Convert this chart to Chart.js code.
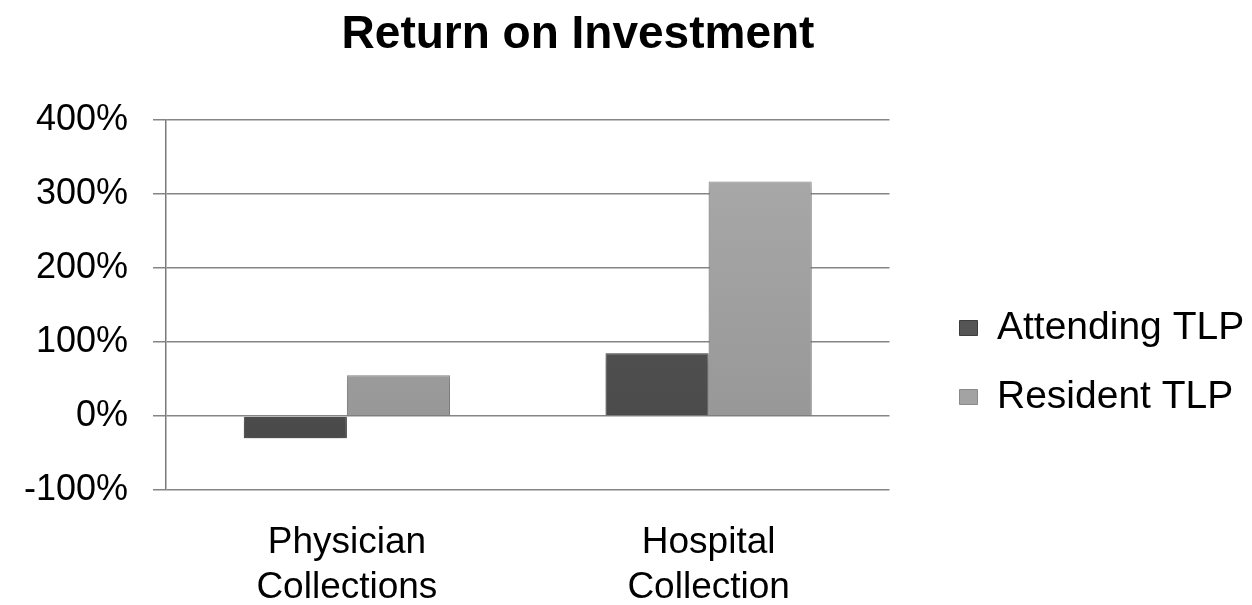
<!DOCTYPE html>
<html>
<head>
<meta charset="utf-8">
<title>Return on Investment</title>
<script src="https://cdn.jsdelivr.net/npm/chart.js@4.4.1/dist/chart.umd.min.js"></script>
<style>
  html, body { margin: 0; padding: 0; background: #fff; }
  #wrap { width: 1252px; height: 605px; position: relative; }
</style>
</head>
<body>
<div id="wrap"><canvas id="roi-canvas"></canvas></div>
<script>
var categories = [['Physician', 'Collections'], ['Hospital', 'Collection']];
var seriesNames = ['Attending TLP', 'Resident TLP'];
var attendingValues = [-30, 85];
var residentValues = [55, 317];
var yTicks = [-100, 0, 100, 200, 300, 400];

var fontFamily = '"Liberation Sans", Arial, sans-serif';
var attendingFlat = '#555555';
var residentFlat = '#a3a3a3';

function barGradient(top, bottom) {
    return function (context) {
        var area = context.chart.chartArea;
        if (!area) return top;
        var g = context.chart.ctx.createLinearGradient(0, area.top, 0, area.bottom);
        g.addColorStop(0, top);
        g.addColorStop(1, bottom);
        return g;
    };
}

// moves title and legend to where they sit in the reference
var placeBlocks = {
    id: 'placeBlocks',
    afterLayout: function (chart) {
        var t = chart.titleBlock;
        if (t) {
            var w = t.right - t.left;
            t.left = 578 - w / 2;
            t.right = t.left + w;
        }
        var lg = chart.legend;
        if (lg) {
            lg.left += 40;
            lg.right = chart.width;   // legend clips to its own box
            lg.top += 60; lg.bottom += 60;
        }
    }
};

var barShadow = {
    id: 'barShadow',
    beforeDatasetsDraw: function (chart) {
        var ctx = chart.ctx;
        ctx.save();
        ctx.shadowColor = 'rgba(0,0,0,0.35)';
        ctx.shadowBlur = 7;
        ctx.shadowOffsetY = 4;
    },
    afterDatasetsDraw: function (chart) {
        chart.ctx.restore();
    }
};

var roiChart = new Chart(document.getElementById('roi-canvas'), {
    type: 'bar',
    data: {
        labels: categories,
        datasets: [{
            label: seriesNames[0],
            data: attendingValues,
            backgroundColor: barGradient('#5c5c5c', '#474747'),
            borderColor: '#3c3c3c',
            borderWidth: 1,
            categoryPercentage: 0.57,
            barPercentage: 1.0
        }, {
            label: seriesNames[1],
            data: residentValues,
            backgroundColor: barGradient('#ababab', '#939393'),
            borderColor: '#8a8a8a',
            borderWidth: 1,
            categoryPercentage: 0.57,
            barPercentage: 1.0
        }]
    },
    options: {
        responsive: true,
        maintainAspectRatio: false,
        animation: false,
        layout: { padding: { left: 0, right: 66, top: 0, bottom: 0 } },
        plugins: {
            title: {
                display: true,
                text: 'Return on Investment',
                color: '#000',
                font: { family: fontFamily, size: 46, weight: 'bold' },
                padding: { top: 8, bottom: 57 }
            },
            legend: {
                position: 'right',
                labels: {
                    color: '#000',
                    font: { family: fontFamily, size: 39 },
                    boxWidth: 18,
                    boxHeight: 15,
                    padding: 30,
                    generateLabels: function (chart) {
                        var items = Chart.defaults.plugins.legend.labels.generateLabels(chart);
                        var flats = [attendingFlat, residentFlat];
                        items.forEach(function (it, i) {
                            it.fillStyle = flats[i];
                            it.strokeStyle = i === 0 ? '#3c3c3c' : '#8a8a8a';
                            it.lineWidth = 1;
                        });
                        return items;
                    }
                }
            },
            tooltip: { enabled: false }
        },
        scales: {
            x: {
                afterFit: function (scale) { scale.height = 115; },
                grid: { display: false, drawTicks: false },
                border: { display: false },
                ticks: {
                    color: '#000',
                    padding: 30,
                    font: { family: fontFamily, size: 37, lineHeight: 1.22 }
                }
            },
            y: {
                min: yTicks[0],
                max: yTicks[yTicks.length - 1],
                afterFit: function (scale) { scale.width = 166; },
                afterBuildTicks: function (scale) {
                    scale.ticks = yTicks.map(function (v) { return { value: v }; });
                },
                grid: { color: '#858585', lineWidth: 1.5, tickLength: 13 },
                border: { color: '#7a7a7a', width: 1.5 },
                ticks: {
                    color: '#000',
                    padding: 25,
                    font: { family: fontFamily, size: 36 },
                    callback: function (v) { return v + '%'; }
                }
            }
        }
    },
    plugins: [placeBlocks, barShadow]
});
</script>
</body>
</html>
